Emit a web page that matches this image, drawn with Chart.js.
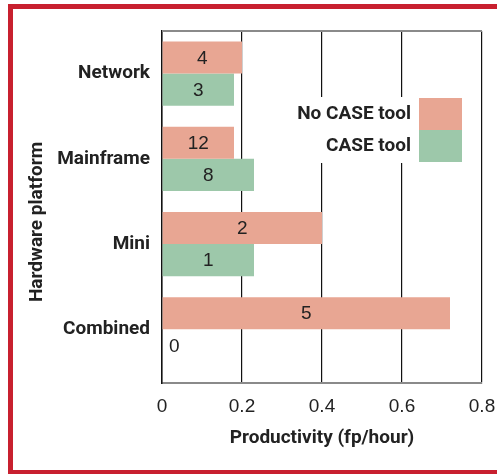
<!DOCTYPE html>
<html>
<head>
<meta charset="utf-8">
<script src="https://cdn.jsdelivr.net/npm/chart.js@4/dist/chart.umd.min.js"></script>
<style>
  html, body { margin: 0; padding: 0; background: #fff; overflow: hidden; }
  #wrap { position: relative; width: 497px; height: 474px; }
  #frame {
    position: absolute; left: 8px; top: 4px; width: 520px; height: 461px;
    border-left: 5px solid #c8202f; border-top: 5px solid #c8202f; border-bottom: 5px solid #c8202f;
    pointer-events: none;
  }
</style>
</head>
<body>
<div id="wrap">
  <canvas id="chart" width="497" height="474"></canvas>
  <div id="frame"></div>
</div>
<script>
// Données
const platforms = ['Network', 'Mainframe', 'Mini', 'Combined'];
const noCaseTool = [0.20, 0.18, 0.40, 0.72];
const caseTool = [0.18, 0.23, 0.23, 0];
const noCaseCounts = [4, 12, 2, 5];
const caseCounts = [3, 8, 1, 0];
const xTicks = [0, 0.2, 0.4, 0.6, 0.8];

const textFont = 'Roboto, "Liberation Sans", sans-serif';
const numFont = '"Liberation Sans", Arial, sans-serif';

// Cadre gris en haut + titre de l'axe vertical
const frameBits = {
  id: 'frameBits',
  beforeDatasetsDraw(chart) {
    const { ctx, chartArea } = chart;
    ctx.save();
    ctx.strokeStyle = '#8a8a8a';
    ctx.lineWidth = 2;
    ctx.beginPath();
    ctx.moveTo(chartArea.left, chartArea.top);
    ctx.lineTo(chartArea.right, chartArea.top);
    ctx.stroke();
    ctx.restore();
  },
  afterDraw(chart) {
    const { ctx, chartArea } = chart;
    ctx.save();
    ctx.translate(37, (chartArea.top + chartArea.bottom) / 2 + 15);
    ctx.rotate(-Math.PI / 2);
    ctx.font = 'bold 19px ' + textFont;
    ctx.fillStyle = '#222';
    ctx.textAlign = 'center';
    ctx.textBaseline = 'middle';
    ctx.fillText('Hardware platform', 0, 0);
    ctx.restore();
  }
};

// Nombres de projets écrits dans les barres
const countLabels = {
  id: 'countLabels',
  afterDatasetsDraw(chart) {
    const ctx = chart.ctx;
    ctx.save();
    ctx.font = '19px ' + numFont;
    ctx.fillStyle = '#222';
    ctx.textBaseline = 'middle';
    chart.data.datasets.forEach((ds, di) => {
      chart.getDatasetMeta(di).data.forEach((bar, i) => {
        const n = ds.counts[i];
        const w = Math.abs(bar.x - bar.base);
        if (w < 1) {
          ctx.textAlign = 'left';
          ctx.fillText(n, bar.base + 7, bar.y + 1);
        } else {
          ctx.textAlign = 'center';
          ctx.fillText(n, (bar.x + bar.base) / 2, bar.y + 1);
        }
      });
    });
    ctx.restore();
  }
};

// Légende dessinée dans la zone de tracé
const legendBox = {
  id: 'legendBox',
  afterDatasetsDraw(chart) {
    const { ctx, chartArea } = chart;
    const sw = 43, sh = 32;
    const right = chartArea.right - 20;
    const top = chartArea.top + 67;
    ctx.save();
    ctx.fillStyle = '#fff';
    ctx.fillRect(right - 167, top - 1, 167, sh * 2 + 2);
    ctx.font = 'bold 19px ' + textFont;
    ctx.textAlign = 'right';
    ctx.textBaseline = 'middle';
    chart.data.datasets.forEach((ds, i) => {
      const y = top + i * sh;
      ctx.fillStyle = ds.backgroundColor;
      ctx.fillRect(right - sw, y, sw, sh);
      ctx.fillStyle = '#222';
      ctx.fillText(ds.label, right - sw - 8, y + sh / 2);
    });
    ctx.restore();
  }
};

const ctx = document.getElementById('chart').getContext('2d');
new Chart(ctx, {
  type: 'bar',
  data: {
    datasets: [{
      label: 'No CASE tool',
      data: platforms.map((p, i) => ({ x: noCaseTool[i], y: i })),
      counts: noCaseCounts,
      backgroundColor: '#e8a693'
    }, {
      label: 'CASE tool',
      data: platforms.map((p, i) => ({ x: caseTool[i], y: i })),
      counts: caseCounts,
      backgroundColor: '#9dc8aa'
    }]
  },
  options: {
    indexAxis: 'y',
    responsive: false,
    animation: false,
    layout: { padding: { top: 31, right: 0, left: 0, bottom: 0 } },
    datasets: { bar: { barPercentage: 1, categoryPercentage: 0.753 } },
    plugins: { legend: { display: false }, tooltip: { enabled: false } },
    scales: {
      x: {
        type: 'linear',
        min: 0,
        max: 0.8,
        afterBuildTicks: s => { s.ticks = xTicks.map(v => ({ value: v })); },
        afterFit: s => { s.height = 91; s.paddingRight = 15; },
        ticks: {
          callback: v => v === 0 ? '0' : v.toFixed(1),
          font: { family: numFont, size: 19 },
          color: '#222',
          padding: 12,
          maxRotation: 0
        },
        grid: { color: '#111', lineWidth: 1.2, drawTicks: false },
        border: { color: '#8a8a8a', width: 2 },
        title: {
          display: true,
          text: 'Productivity (fp/hour)',
          font: { family: textFont, size: 19, weight: 'bold' },
          color: '#222',
          padding: { top: 0, bottom: 24 }
        }
      },
      y: {
        type: 'linear',
        reverse: true,
        offset: false,
        min: -0.5,
        max: 3.63,
        afterBuildTicks: s => { s.ticks = platforms.map((p, i) => ({ value: i })); },
        afterFit: s => { s.width = 162; },
        ticks: {
          callback: v => platforms[v],
          font: { family: textFont, size: 19, weight: 'bold' },
          color: '#222',
          padding: 12
        },
        grid: { display: false, drawTicks: false },
        border: { color: '#111', width: 1.5 }
      }
    }
  },
  plugins: [frameBits, countLabels, legendBox]
});
</script>
</body>
</html>
